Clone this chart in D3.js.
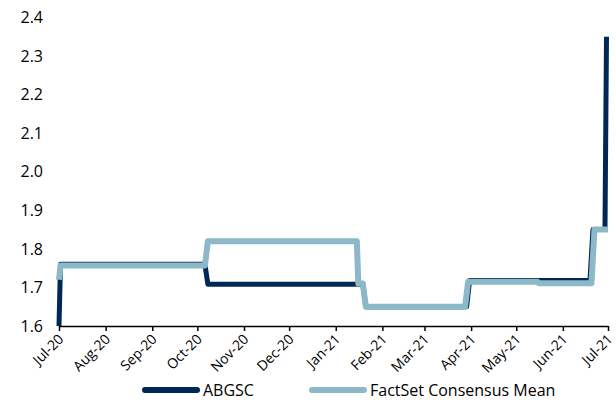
<!DOCTYPE html>
<html>
<head>
<meta charset="utf-8">
<script src="https://cdn.jsdelivr.net/npm/d3@7"></script>
<style>
  html, body { margin: 0; padding: 0; background: #fff; }
  svg { display: block; font-family: "Open Sans", "Liberation Sans", sans-serif; }
</style>
</head>
<body>
<svg id="chart" width="616" height="400"></svg>
<script>
// ABGSC estimate series (date, value)
const abgscDates  = ["2020-07-01","2020-07-02","2020-10-06","2020-10-08","2021-01-19","2021-01-21","2021-03-29","2021-03-31","2021-06-19","2021-06-21","2021-06-29","2021-06-30"];
const abgscValues = [1.60, 1.76, 1.76, 1.708, 1.708, 1.65, 1.65, 1.718, 1.718, 1.85, 1.85, 2.35];

// FactSet consensus mean series (date, value)
const consensusDates  = ["2020-07-01","2020-07-02","2020-10-06","2020-10-08","2021-01-15","2021-01-16","2021-01-19","2021-01-21","2021-03-28","2021-03-30","2021-05-15","2021-05-16","2021-06-20","2021-06-22","2021-07-01"];
const consensusValues = [1.72, 1.757, 1.757, 1.82, 1.82, 1.71, 1.71, 1.65, 1.65, 1.715, 1.715, 1.711, 1.711, 1.85, 1.85];

// Axis ticks
const yTicks = [1.6, 1.7, 1.8, 1.9, 2.0, 2.1, 2.2, 2.3, 2.4];
const xTickDates = ["2020-07-01","2020-08-01","2020-09-01","2020-10-01","2020-11-01","2020-12-01","2021-01-01","2021-02-01","2021-03-01","2021-04-01","2021-05-01","2021-06-01","2021-07-01"];

const seriesNames = ["ABGSC", "FactSet Consensus Mean"];
const seriesColors = ["#002856", "#8cb8c8"];

const parse = d3.timeParse("%Y-%m-%d");
const svg = d3.select("#chart");

const x = d3.scaleTime()
  .domain([parse("2020-07-01"), parse("2021-07-01")])
  .range([59, 608]);
const y = d3.scaleLinear()
  .domain([1.6, 2.4])
  .range([326, 17.5]);

const abgsc = abgscDates.map((d, i) => ({ date: parse(d), value: abgscValues[i] }));
const consensus = consensusDates.map((d, i) => ({ date: parse(d), value: consensusValues[i] }));

// Y axis labels only (no axis line)
const yAxis = d3.axisLeft(y).tickValues(yTicks).tickFormat(d3.format(".1f")).tickSize(0).tickPadding(0);
const yg = svg.append("g").attr("transform", "translate(43,0)").call(yAxis);
yg.select(".domain").remove();
yg.selectAll("text").attr("font-size", 16).attr("fill", "#000").attr("font-family", "Open Sans, sans-serif");

// Lines
const line = d3.line().x(d => x(d.date)).y(d => y(d.value));
svg.append("path").datum(abgsc)
  .attr("d", line).attr("fill", "none")
  .attr("stroke", seriesColors[0]).attr("stroke-width", 5)
  .attr("stroke-linejoin", "round");
svg.append("path").datum(consensus)
  .attr("d", line).attr("fill", "none")
  .attr("stroke", seriesColors[1]).attr("stroke-width", 6)
  .attr("stroke-linejoin", "round");

// X axis
const xAxis = d3.axisBottom(x)
  .tickValues(xTickDates.map(parse))
  .tickFormat(d3.timeFormat("%b-%y"))
  .tickSizeInner(5).tickSizeOuter(0);
const xg = svg.append("g").attr("transform", "translate(0,326)").call(xAxis);
xg.select(".domain").attr("stroke", "#000").attr("stroke-width", 1.5);
xg.selectAll(".tick line").attr("stroke", "#000").attr("stroke-width", 1.5);
xg.selectAll("text")
  .attr("font-size", 14).attr("fill", "#000").attr("font-family", "Open Sans, sans-serif")
  .attr("text-anchor", "end")
  .attr("dy", null).attr("y", null)
  .attr("transform", "translate(5,14) rotate(-45)");

// Legend
const legend = svg.append("g");
const legendItems = [{ x: 142, name: seriesNames[0], color: seriesColors[0] },
                     { x: 309, name: seriesNames[1], color: seriesColors[1] }];
legendItems.forEach(it => {
  legend.append("line")
    .attr("x1", it.x + 3).attr("x2", it.x + 55)
    .attr("y1", 390).attr("y2", 390)
    .attr("stroke", it.color).attr("stroke-width", 6).attr("stroke-linecap", "round");
  legend.append("text")
    .attr("x", it.x + 61).attr("y", 395.5)
    .attr("font-size", 16).attr("fill", "#000")
    .text(it.name);
});
</script>
</body>
</html>
